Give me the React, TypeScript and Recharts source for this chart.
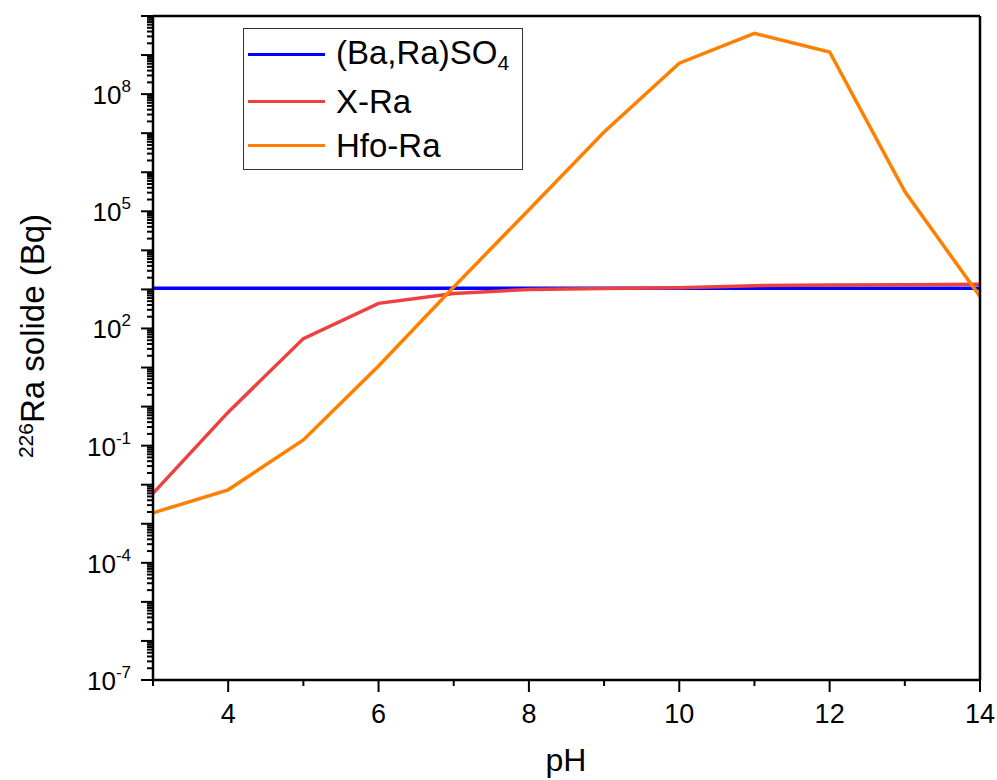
import React from 'react';
import { LineChart, Line, XAxis, YAxis, Legend } from 'recharts';

// pH values (x)
const PH = [3, 4, 5, 6, 7, 8, 9, 10, 11, 12, 13, 14];

// 226Ra in solid phase (Bq)
const BARA_SO4 = [1070, 1070, 1070, 1070, 1070, 1070, 1070, 1070, 1070, 1070, 1070, 1070];
const X_RA = [0.006, 0.72, 55, 440, 790, 1000, 1050, 1100, 1250, 1300, 1320, 1350];
const HFO_RA = [0.0019, 0.0074, 0.14, 11, 1150, 1.1e5, 1.07e7, 6.2e8, 3.6e9, 1.2e9, 3.2e5, 660];

const X_TICKS = [3, 4, 5, 6, 7, 8, 9, 10, 11, 12, 13, 14];
const X_LABELED = [4, 6, 8, 10, 12, 14];
const Y_DECADES = [-7, -6, -5, -4, -3, -2, -1, 0, 1, 2, 3, 4, 5, 6, 7, 8, 9, 10];
const Y_LABELED = [-7, -4, -1, 2, 5, 8];

const SERIES = [
  { key: 'bara', name: '(Ba,Ra)SO4', color: '#0000ff' },
  { key: 'xra', name: 'X-Ra', color: '#ef4040' },
  { key: 'hfo', name: 'Hfo-Ra', color: '#ff8000' },
];

const data = PH.map((ph, i) => ({ ph, bara: BARA_SO4[i], xra: X_RA[i], hfo: HFO_RA[i] }));

// major decade ticks plus 2..9 minor ticks
const yTicks: number[] = [];
Y_DECADES.forEach((e) => {
  yTicks.push(Math.pow(10, e));
  if (e < 10) {
    for (let m = 2; m <= 9; m++) yTicks.push(m * Math.pow(10, e));
  }
});

const FONT = '"Liberation Sans", Arial, sans-serif';

const YTick = (props: any) => {
  const { x, y, payload } = props;
  const v = payload.value;
  const e = Math.round(Math.log10(v));
  const major = Math.abs(v - Math.pow(10, e)) / v < 1e-6;
  const len = major ? 12 : 6;
  return (
    <g>
      <line x1={x} x2={x - len} y1={y} y2={y} stroke="#000" strokeWidth={2} />
      {major && Y_LABELED.includes(e) && (
        <text x={x - 22} y={y + 10} textAnchor="end" fontFamily={FONT} fontSize={26} fill="#000">
          10
          <tspan fontSize={17} dy={-12}>{e}</tspan>
        </text>
      )}
    </g>
  );
};

const XTick = (props: any) => {
  const { x, y, payload } = props;
  const v = payload.value;
  const labeled = X_LABELED.includes(v);
  return (
    <g>
      <line x1={x} x2={x} y1={y} y2={y + (labeled ? 12 : 6)} stroke="#000" strokeWidth={2} />
      {labeled && (
        <text x={x} y={y + 43} textAnchor="middle" fontFamily={FONT} fontSize={27} fill="#000">
          {v}
        </text>
      )}
    </g>
  );
};

const YTitle = () => (
  <text
    x={44}
    y={336}
    transform="rotate(-90, 44, 336)"
    textAnchor="middle"
    fontFamily={FONT}
    fontSize={33}
    fill="#000"
  >
    <tspan fontSize={21} dy={-11}>226</tspan>
    <tspan dy={11}>Ra solide (Bq)</tspan>
  </text>
);

const XTitle = () => (
  <text x={566} y={771} textAnchor="middle" fontFamily={FONT} fontSize={32} fill="#000">
    pH
  </text>
);

const LegendBox = () => (
  <div
    style={{
      width: 278,
      height: 138,
      border: '1px solid #333',
      background: '#fff',
      fontFamily: FONT,
      fontSize: 33,
      color: '#000',
      paddingTop: 2,
      boxSizing: 'content-box',
    }}
  >
    {SERIES.map((s, i) => (
      <div
        key={s.key}
        style={{ display: 'flex', alignItems: 'center', height: i === 0 ? 46 : i === 1 ? 48 : 40, paddingLeft: 4 }}
      >
        <div style={{ width: 77, height: 3, background: s.color, marginRight: 11 }} />
        <span style={{ lineHeight: 1 }}>
          {s.key === 'bara' ? (
            <>
              (Ba,Ra)SO<sub style={{ fontSize: 21, verticalAlign: -6 }}>4</sub>
            </>
          ) : (
            s.name
          )}
        </span>
      </div>
    ))}
  </div>
);

const App: React.FC = () => {
  return (
    <div style={{ position: 'absolute', left: 0, top: 0, width: 997, height: 780, background: '#fff' }}>
      <LineChart width={997} height={780} data={data} margin={{ top: 15, right: 16, bottom: 40, left: 93 }}>
        <XAxis
          dataKey="ph"
          type="number"
          domain={[3, 14]}
          ticks={X_TICKS}
          interval={0}
          height={60}
          tickSize={0}
          tickMargin={0}
          tick={<XTick />}
          axisLine={{ stroke: '#000', strokeWidth: 2.5 }}
          label={<XTitle />}
        />
        <XAxis
          xAxisId="top"
          orientation="top"
          dataKey="ph"
          type="number"
          domain={[3, 14]}
          height={1}
          tick={false}
          tickLine={false}
          axisLine={{ stroke: '#000', strokeWidth: 2.5 }}
        />
        <YAxis
          scale="log"
          type="number"
          domain={[1e-7, 1e10]}
          allowDataOverflow
          ticks={yTicks}
          interval={0}
          width={60}
          tickSize={0}
          tickMargin={0}
          tick={<YTick />}
          axisLine={{ stroke: '#000', strokeWidth: 2.5 }}
          label={<YTitle />}
        />
        <YAxis
          yAxisId="right"
          orientation="right"
          scale="log"
          type="number"
          domain={[1e-7, 1e10]}
          width={1}
          tick={false}
          tickLine={false}
          axisLine={{ stroke: '#000', strokeWidth: 2.5 }}
        />
        <Legend
          layout="vertical"
          align="center"
          verticalAlign="middle"
          content={<LegendBox />}
          wrapperStyle={{ left: 243, top: 28, width: 'auto' }}
        />
        {SERIES.map((s) => (
          <Line
            key={s.key}
            dataKey={s.key}
            name={s.name}
            stroke={s.color}
            strokeWidth={3.5}
            dot={false}
            type="linear"
            isAnimationActive={false}
          />
        ))}
      </LineChart>
    </div>
  );
};

export default App;
